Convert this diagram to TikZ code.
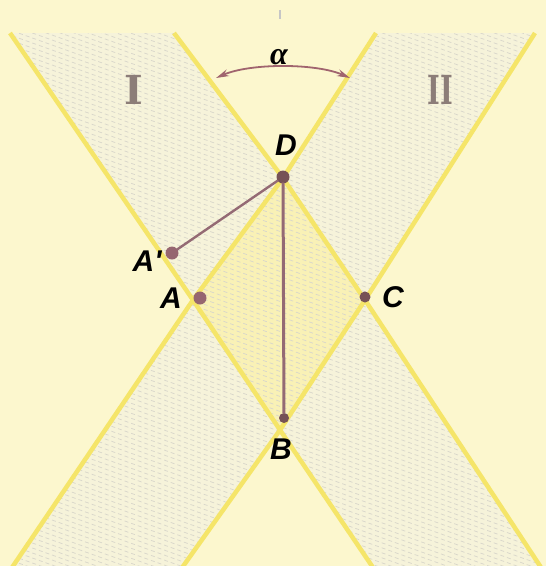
\documentclass[tikz,border=0pt]{standalone}
\usepackage{fontspec}
\usepackage{graphicx}
\usetikzlibrary{arrows.meta}
\newfontfamily\lblfont{Liberation Sans}
\newfontfamily\numfont{DejaVu Serif}
\newfontfamily\grkfont{Liberation Serif}
\definecolor{bgc}{RGB}{252,247,206}
\definecolor{bandc}{RGB}{246,243,218}
\definecolor{rhc}{RGB}{249,241,182}
\definecolor{yel}{RGB}{245,229,105}
\definecolor{mauve}{RGB}{148,106,116}
\definecolor{arcc}{RGB}{160,100,110}
\definecolor{dotc}{RGB}{150,102,112}
\definecolor{dotdark}{RGB}{118,82,86}
\definecolor{numc}{RGB}{140,125,120}
\definecolor{hatchc}{RGB}{216,214,202}
\begin{document}
\begin{tikzpicture}[x=1pt,y=-1pt,
  yline/.style={draw=yel, line width=4.5pt, line join=round},
  seg/.style={draw=mauve, line width=2.4pt, line cap=round},
  dotn/.style={circle, fill=dotc, inner sep=0pt, minimum size=13pt},
  lbl/.style={font=\lblfont\bfseries\itshape\fontsize{30}{30}\selectfont, text=black, inner sep=0pt},
  num/.style={font=\numfont\bfseries\fontsize{40}{40}\selectfont, text=numc, inner sep=0pt},
  hatch/.style={draw=hatchc, line width=0.7pt, dash pattern=on 4pt off 3pt},
  >={Stealth[length=13pt,width=7pt]}
]
\useasboundingbox (0,0) rectangle (546,566);
\fill[bgc] (0,0) rectangle (546,566);
% line points
\coordinate (T1) at (10,33);
\coordinate (T2) at (174,33);
\coordinate (T3) at (376,33);
\coordinate (T4) at (535,33);
\coordinate (D) at (283,178);
\coordinate (Lv) at (193,300);
\coordinate (Rv) at (365,300);
\coordinate (Bx) at (280,430);
\coordinate (E1) at (376,572);
\coordinate (E2) at (544,572);
\coordinate (E3) at (9,572);
\coordinate (E4) at (179,572);
% bands
\fill[bandc] (T1)--(T2)--(D)--(Rv)--(E2)--(E1)--(Bx)--(Lv)--cycle;
\fill[bandc] (T3)--(T4)--(Rv)--(Bx)--(E4)--(E3)--(Lv)--(D)--cycle;
\fill[rhc] (D)--(Rv)--(Bx)--(Lv)--cycle;
\begin{scope}
  \clip (T1)--(T2)--(D)--(Rv)--(E2)--(E1)--(Bx)--(Lv)--cycle
        (T3)--(T4)--(Rv)--(Bx)--(E4)--(E3)--(Lv)--(D)--cycle;
  \foreach \i in {0,...,180} {
    \draw[hatch] (-60,{-240+\i*5}) -- ++(700,250);
  }
\end{scope}
% yellow boundary lines
\draw[yline] (T1)--(Lv)--(Bx)--(E1);
\draw[yline] (T2)--(D)--(Rv)--(E2);
\draw[yline] (T3)--(D)--(Lv)--(E3);
\draw[yline] (T4)--(Rv)--(Bx)--(E4);
% top tick
\draw[draw=gray!45, line width=1.3pt] (280,10) -- (280,19);
% angle arc
\coordinate (al) at (216,78);
\coordinate (ar) at (350,78);
\draw[draw=arcc, line width=1.8pt, <->] (al) .. controls (250,63) and (316,63) .. (ar);
\node[font=\grkfont\bfseries\itshape\fontsize{32}{32}\selectfont, inner sep=0pt] (alpha) at (279,57) {α};
% region numerals
\node[num] (n1) at (134,90) {I};
\node[num] (n2) at (440,90) {\scalebox{0.68}[1]{II}};
% points
\node[dotn, fill=dotdark, minimum size=13pt] (d) at (283,177) {};
\node[dotn] (a1) at (172,253) {};
\node[dotn] (a) at (200,298) {};
\node[dotn, fill=dotdark, minimum size=11pt] (c) at (365,297) {};
\node[dotn, fill=dotdark, minimum size=10pt] (b) at (284,418) {};
\draw[seg] (d) -- (a1);
\draw[seg, line width=3pt] (d) -- (b);
% labels
\node[lbl] (lD) at (286,145) {D};
\node[lbl] (lA1) at (147,261) {A'};
\node[lbl] (lA) at (171,298) {A};
\node[lbl] (lC) at (393,297) {C};
\node[lbl] (lB) at (281,449) {B};
\end{tikzpicture}
\end{document}
